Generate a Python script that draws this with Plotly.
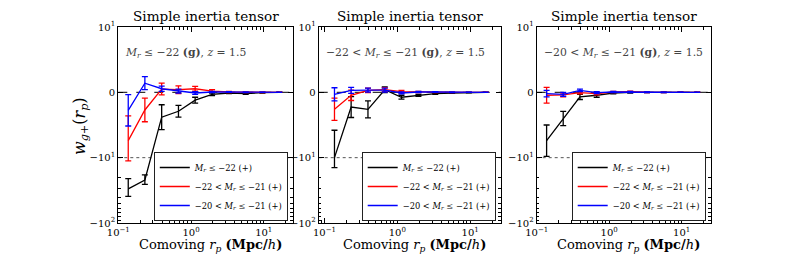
import math
import plotly.graph_objects as go

# ---------------- data ----------------
x_rp = [0.137, 0.232, 0.395, 0.672, 1.14, 1.95, 3.32, 5.65, 9.6, 16.4]

series_names = [
    "<i>M</i><sub><i>r</i></sub> ≤ −22 (+)",
    "−22 &lt; <i>M</i><sub><i>r</i></sub> ≤ −21 (+)",
    "−20 &lt; <i>M</i><sub><i>r</i></sub> ≤ −21 (+)",
]
series_colors = ["#000000", "#ff0000", "#0000ff"]

panel_titles = ["Simple inertia tensor"] * 3
panel_labels = [
    "<i>M</i><sub><i>r</i></sub> ≤ −22 <b>(g)</b>, <i>z</i> = 1.5",
    "−22 &lt; <i>M</i><sub><i>r</i></sub> ≤ −21 <b>(g)</b>, <i>z</i> = 1.5",
    "−20 &lt; <i>M</i><sub><i>r</i></sub> ≤ −21 <b>(g)</b>, <i>z</i> = 1.5",
]

p1_black = [-30, -22, -3.8, -2.9, -1.2, -0.3, -0.1, -0.2, -0.05, 0.0]
p1_black_err = [9, 3.6, 1.9, 0.9, 0.45, 0.2, 0.1, 0.1, 0.05, 0.02]
p1_red = [-7.4, -2.7, 0.5, 0.4, 0.55, 0.2, 0.05, 0.02, 0.0, 0.0]
p1_red_err = [3.8, 1.8, 0.9, 0.6, 0.35, 0.2, 0.1, 0.05, 0.03, 0.02]
p1_blue = [-2.75, 1.4, 0.55, 0.2, -0.1, 0.05, 0.05, 0.0, 0.0, 0.0]
p1_blue_err = [2.4, 1.0, 0.4, 0.3, 0.2, 0.1, 0.05, 0.03, 0.02, 0.01]

p2_black = [-10, -2.25, -2.6, 0.4, -0.75, -0.45, -0.2, -0.1, -0.05, 0.0]
p2_black_err = [4.2, 1.6, 1.3, 0.45, 0.3, 0.15, 0.1, 0.05, 0.03, 0.02]
p2_red = [-2.6, -0.45, 0.3, 0.4, 0.1, 0.05, 0.02, 0.0, 0.0, 0.0]
p2_red_err = [1.7, 0.8, 0.35, 0.3, 0.2, 0.1, 0.05, 0.03, 0.02, 0.01]
p2_blue = [-0.3, 0.3, 0.35, 0.35, -0.1, 0.05, 0.05, 0.0, 0.0, 0.0]
p2_blue_err = [1.0, 0.45, 0.3, 0.3, 0.15, 0.1, 0.05, 0.03, 0.02, 0.01]

p3_black = [-7.4, -4.0, -0.7, -0.45, -0.1, 0.0, 0.0, 0.0, 0.0, 0.0]
p3_black_err = [2.4, 1.1, 0.4, 0.3, 0.15, 0.1, 0.05, 0.03, 0.02, 0.01]
p3_red = [-0.45, -0.4, -0.05, -0.2, 0.05, 0.1, 0.02, 0.0, 0.0, 0.0]
p3_red_err = [1.2, 0.3, 0.2, 0.2, 0.1, 0.1, 0.05, 0.03, 0.02, 0.01]
p3_blue = [-0.2, -0.3, 0.3, -0.05, 0.05, 0.05, 0.02, 0.0, 0.0, 0.0]
p3_blue_err = [0.5, 0.3, 0.2, 0.15, 0.1, 0.1, 0.05, 0.03, 0.02, 0.01]

y_tick_values = [10, 0, -10, -100]
y_tick_labels = ["10<sup>1</sup>", "0", "−10<sup>1</sup>", "−10<sup>2</sup>"]
x_tick_values = [0.1, 1, 10]
x_tick_labels = ["10<sup>−1</sup>", "10<sup>0</sup>", "10<sup>1</sup>"]

panels = [
    [(p1_black, p1_black_err), (p1_red, p1_red_err), (p1_blue, p1_blue_err)],
    [(p2_black, p2_black_err), (p2_red, p2_red_err), (p2_blue, p2_blue_err)],
    [(p3_black, p3_black_err), (p3_red, p3_red_err), (p3_blue, p3_blue_err)],
]

# ---------------- symlog scale (linthresh = 10) ----------------
LINTHRESH = 10.0


def symlog(v):
    if abs(v) <= LINTHRESH:
        return v / LINTHRESH
    s = 1 if v > 0 else -1
    return s * (1 + math.log10(abs(v) / LINTHRESH))


# the page body has an 8px margin; the figure is sized to fill the rest of the window
OFF = 8
W, H = 789 - OFF, 263 - OFF


def px(xp):
    return (xp - OFF) / W


def py(yp):
    return 1 - (yp - OFF) / H


x_domains_px = [(118.3, 292.8), (318.7, 500.7), (536.7, 710.7)]
x_ranges = [(-1.0, 1.4), (-1.08, 1.42), (-1.0, 1.4)]
y_top_px, y_bot_px = 27, 223
ydom = [py(y_bot_px), py(y_top_px)]

FONT = "DejaVu Serif"

fig = go.Figure()

legend_names = ["legend", "legend2", "legend3"]

for p, series in enumerate(panels):
    xa = "x" if p == 0 else f"x{p+1}"
    ya = "y" if p == 0 else f"y{p+1}"
    for k, (vals, errs) in enumerate(series):
        ty = [symlog(v) for v in vals]
        up = [symlog(v + e) - symlog(v) for v, e in zip(vals, errs)]
        dn = [symlog(v) - symlog(v - e) for v, e in zip(vals, errs)]
        fig.add_trace(go.Scatter(
            x=x_rp, y=ty, mode="lines", name=series_names[k],
            line=dict(color=series_colors[k], width=1.3),
            error_y=dict(type="data", symmetric=False, array=up, arrayminus=dn,
                         color=series_colors[k], thickness=1.3, width=3),
            xaxis=xa, yaxis=ya, legend=legend_names[p], showlegend=True,
        ))

y_minor = [symlog(-m) for m in range(20, 100, 10)]
x_minor = []
for dec in range(-2, 2):
    for m in range(2, 10):
        x_minor.append(m * 10 ** dec)

layout = dict(
    width=W, height=H, margin=dict(l=0, r=0, t=0, b=0, pad=0, autoexpand=False),
    paper_bgcolor="white", plot_bgcolor="white",
    font=dict(family=FONT, color="black", size=10),
)

for p in range(3):
    xl, xr = x_domains_px[p]
    xkey = "xaxis" if p == 0 else f"xaxis{p+1}"
    ykey = "yaxis" if p == 0 else f"yaxis{p+1}"
    yanchor = "y" if p == 0 else f"y{p+1}"
    xanchor = "x" if p == 0 else f"x{p+1}"
    layout[xkey] = dict(
        type="log", domain=[px(xl), px(xr)], range=list(x_ranges[p]), anchor=yanchor,
        tickmode="array", tickvals=x_tick_values, ticktext=x_tick_labels,
        ticks="inside", ticklen=5, tickwidth=1, tickcolor="black",
        showline=True, linecolor="black", linewidth=1.2, mirror="allticks",
        showgrid=False, zeroline=False, tickfont=dict(size=10, family=FONT),
        minor=dict(tickmode="array", tickvals=x_minor,
                   ticks="inside", ticklen=2.5, tickcolor="black", showgrid=False),
    )
    layout[ykey] = dict(
        domain=ydom, range=[-2, 1], anchor=xanchor,
        tickmode="array", tickvals=[symlog(v) for v in y_tick_values], ticktext=y_tick_labels,
        ticks="inside", ticklen=5, tickwidth=1, tickcolor="black",
        showline=True, linecolor="black", linewidth=1.2, mirror="allticks",
        showgrid=False, zeroline=False, tickfont=dict(size=10, family=FONT),
        minor=dict(tickmode="array", tickvals=y_minor, ticks="inside", ticklen=2.5,
                   tickcolor="black", showgrid=False),
    )
    lg = dict(
        x=px(xr - 5), y=py(221), xanchor="right", yanchor="bottom",
        bgcolor="white", bordercolor="#222222", borderwidth=1,
        font=dict(family=FONT, size=8.3, color="black"),
        tracegroupgap=0, itemwidth=30,
    )
    legkey = "legend" if p == 0 else f"legend{p+1}"
    layout[legkey] = lg

fig.update_layout(**layout)

shapes = []
annotations = []
for p in range(3):
    xr_ref = "x domain" if p == 0 else f"x{p+1} domain"
    yref = "y" if p == 0 else f"y{p+1}"
    shapes.append(dict(type="line", xref=xr_ref, yref=yref, x0=0, x1=1,
                       y0=symlog(0), y1=symlog(0), layer="below",
                       line=dict(color="#333333", width=1.2, dash="dash")))
    shapes.append(dict(type="line", xref=xr_ref, yref=yref, x0=0, x1=1,
                       y0=symlog(-10), y1=symlog(-10), layer="below",
                       line=dict(color="#555555", width=1, dash="dot")))
    xl, xr = x_domains_px[p]
    annotations.append(dict(text=panel_titles[p], xref="paper", yref="paper",
                            x=px((xl + xr) / 2), y=py(16), xanchor="center", yanchor="middle",
                            showarrow=False, font=dict(family=FONT, size=13.6, color="black")))
    annotations.append(dict(text=panel_labels[p], xref="paper", yref="paper",
                            x=px(xl + 5), y=py(53), xanchor="left", yanchor="middle",
                            showarrow=False, font=dict(family=FONT, size=10.8, color="#444444")))
    annotations.append(dict(text="Comoving <i>r</i><sub><i>p</i></sub> <b>(Mpc/</b><i>h</i><b>)</b>",
                            xref="paper", yref="paper",
                            x=px((xl + xr) / 2 + 5), y=py(245), xanchor="center", yanchor="middle",
                            showarrow=False, font=dict(family=FONT, size=13, color="black")))

annotations.append(dict(text="<i>w</i><sub><i>g</i>+</sub>(<i>r</i><sub><i>p</i></sub>)",
                        xref="paper", yref="paper", x=px(80), y=py(126),
                        xanchor="center", yanchor="middle", textangle=-90, showarrow=False,
                        font=dict(family=FONT, size=16, color="black")))

fig.update_layout(shapes=shapes, annotations=annotations)

fig.write_html("out.html")
